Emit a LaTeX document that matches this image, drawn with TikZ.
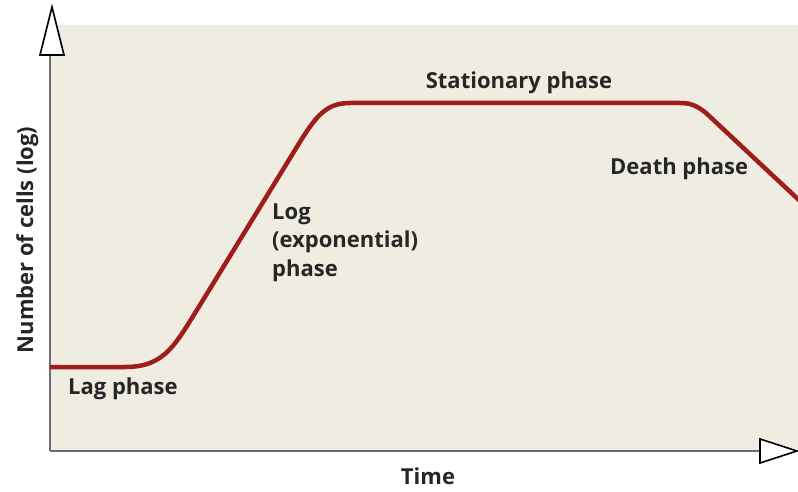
\documentclass[tikz,border=0pt]{standalone}
\usepackage{fontspec}
\setmainfont{Open Sans}
\definecolor{bgbeige}{HTML}{EFECE2}
\definecolor{curvered}{HTML}{A01E1A}
\definecolor{axisgray}{HTML}{6E6E6E}
\begin{document}
\begin{tikzpicture}[x=1pt,y=-1pt,
  lbl/.style={font=\bfseries\fontsize{22}{28.5}\selectfont, text=black!85, inner sep=0pt},
  axisline/.style={draw=axisgray, line width=2pt},
  arrowhead/.style={draw=black, fill=white, line width=1.6pt, line join=miter}]
\useasboundingbox (0,0) rectangle (798,492);
\fill[bgbeige] (50,25) rectangle (798,451);
% axes
\draw[axisline] (50,451) -- (50,55);
\draw[axisline] (50,451) -- (760,451);
\draw[arrowhead] (52,7) -- (64,55) -- (40,55) -- cycle;
\draw[arrowhead] (797,451) -- (760,463) -- (760,439) -- cycle;
% growth curve
\draw[curvered, line width=4.5pt, line cap=butt]
  (50,367) -- (125,367) .. controls (165,367) and (175,345) .. (200,305)
  -- (295,150) .. controls (315,117) and (325,103) .. (350,103)
  -- (680,103) .. controls (688,103) and (695,104) .. (706,113) -- (800,201);
% labels
\node[lbl, anchor=base west] (lag) at (68,394) {Lag phase};
\node[lbl, anchor=base west, align=left] (log) at (272,276) {Log\\(exponential)\\phase};
\node[lbl, anchor=base] (stat) at (519,89) {Stationary phase};
\node[lbl, anchor=base west] (death) at (610,175) {Death phase};
\node[lbl, anchor=base] (time) at (428,484) {Time};
\node[lbl, rotate=90, anchor=base] (ylab) at (33,240) {Number of cells (log)};
\end{tikzpicture}
\end{document}
